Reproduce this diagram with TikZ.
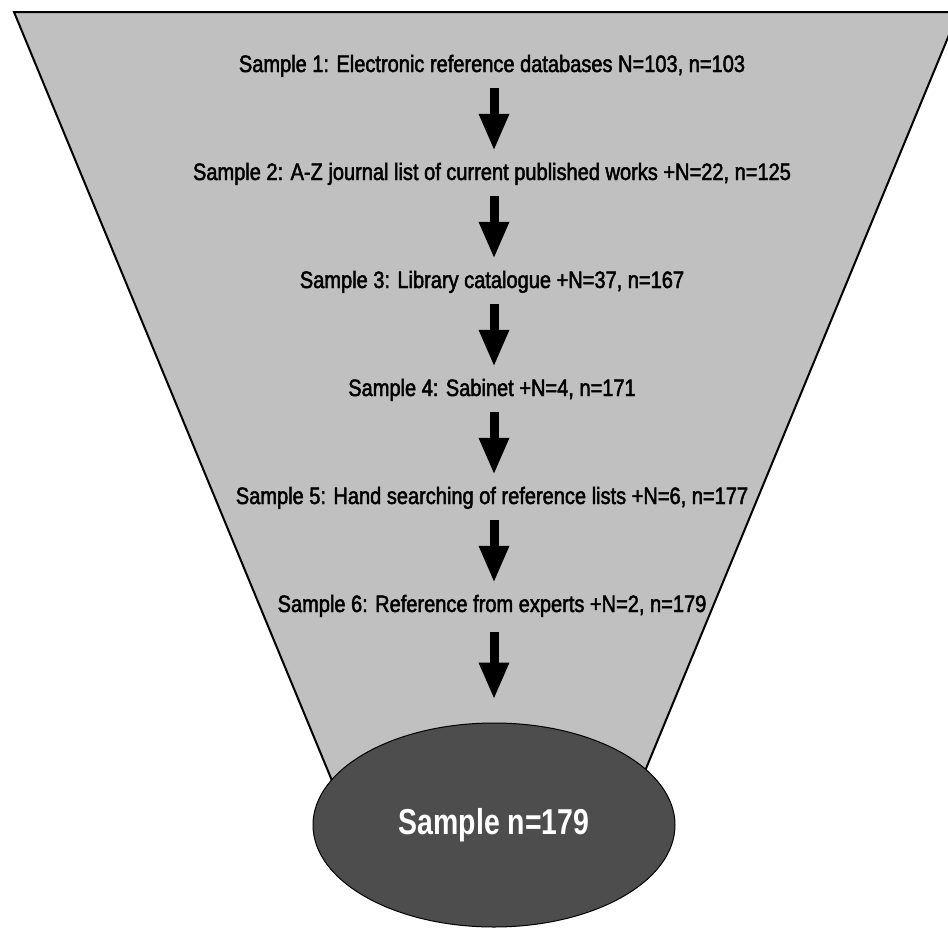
\documentclass[tikz,border=0pt]{standalone}
\usepackage{fontspec}
\setmainfont{Liberation Sans}
\newfontfamily\narrowsans[FakeStretch=0.845,FakeBold=2]{Liberation Sans}
\newfontfamily\narrowbold[FakeStretch=0.79]{Liberation Sans}
\usetikzlibrary{arrows.meta,shapes.geometric}
\definecolor{funnelgray}{RGB}{192,192,192}
\definecolor{ovalgray}{RGB}{77,77,77}
\tikzset{
  stagetext/.style={anchor=base, inner sep=0pt, text height=17pt, text depth=5pt,
    font=\narrowsans\fontsize{23.7}{26}\selectfont, text=black},
  blockarrow/.style={line width=9pt, line cap=butt, black,
    -{Triangle[width=28pt,length=37pt]}},
  funnel/.style={fill=funnelgray, draw=black, line width=2pt, line join=miter},
  resultoval/.style={ellipse, draw=black, line width=1pt, fill=ovalgray,
    minimum width=362pt, minimum height=204pt, inner sep=0pt,
    font=\narrowbold\bfseries\fontsize{36}{40}\selectfont, text=white}
}
\begin{document}
\begin{tikzpicture}[x=1pt,y=-1pt]
  \useasboundingbox (0,0) rectangle (948,929);
  \clip (0,0) rectangle (948,929);
  % funnel body, its lower end hidden behind the oval
  \draw[funnel] (340,800) -- (14,12) -- (958.5,12) -- (633,800);
  % result oval
  \node[resultoval] (total) at (494,825) {Sample n=179};
  % search stages
  \node[stagetext] (s1) at (492,72)  {Sample 1: Electronic reference databases N=103, n=103};
  \node[stagetext] (s2) at (492,180) {Sample 2: A-Z journal list of current published works +N=22, n=125};
  \node[stagetext] (s3) at (492,288) {Sample 3: Library catalogue +N=37, n=167};
  \node[stagetext] (s4) at (492,396) {Sample 4: Sabinet +N=4, n=171};
  \node[stagetext] (s5) at (492,504) {Sample 5: Hand searching of reference lists +N=6, n=177};
  \node[stagetext] (s6) at (492,612) {Sample 6: Reference from experts +N=2, n=179};
  % arrows between stages (shifts are in page direction: negative is downward)
  \foreach \a/\b in {s1/s2,s2/s3,s3/s4,s4/s5,s5/s6}{
    \draw[blockarrow] ([xshift=2pt,yshift=-16pt]\a.base) -- ([xshift=2pt,yshift=12pt]\b.north);
  }
  \draw[blockarrow] ([xshift=2pt,yshift=-20pt]s6.base) -- ([yshift=23pt]total.north);
\end{tikzpicture}
\end{document}
